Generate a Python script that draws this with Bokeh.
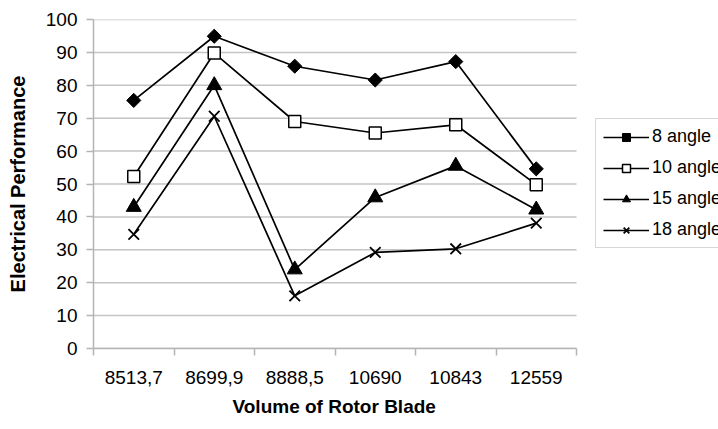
import math
from bokeh.plotting import figure
from bokeh.models import FixedTicker, Legend, LegendItem, Range1d, Title
from bokeh.embed import file_html
from bokeh.resources import INLINE

categories = ["8513,7", "8699,9", "8888,5", "10690", "10843", "12559"]
angle8 = [75.4, 94.9, 85.8, 81.6, 87.2, 54.6]
angle10 = [52.3, 89.8, 69.0, 65.5, 68.0, 49.8]
angle15 = [43.0, 80.0, 24.0, 45.9, 55.5, 42.2]
angle18 = [34.7, 70.6, 16.0, 29.2, 30.3, 38.1]
series_names = ["8 angle", "10 angle", "15 angle", "18 angle"]
yticks = list(range(0, 101, 10))
x_title = "Volume of Rotor Blade"
y_title = "Electrical Performance"

n = len(categories)
xs = [i + 0.5 for i in range(n)]

FONT = "Liberation Sans"
GRID = "#c4c4c4"
AXIS = "#b4b4b4"

W, H = 718, 429
PLOT_LEFT, PLOT_RIGHT = 93, 576   # pixel extent of the category axis
# frame spans to the right edge so the legend (inside the frame) is visible
x_end = n * (W - PLOT_LEFT) / (PLOT_RIGHT - PLOT_LEFT)

p = figure(width=W, height=H, output_backend="svg", toolbar_location=None,
           x_range=Range1d(0, x_end), y_range=Range1d(0, 100),
           min_border_left=PLOT_LEFT, min_border_right=0, min_border_top=19, min_border_bottom=81)
p.outline_line_color = None
p.background_fill_color = "white"
p.border_fill_color = "white"

# horizontal gridlines limited to the category extent
p.xgrid.grid_line_color = None
p.ygrid.grid_line_color = None
p.segment(x0=[0] * len(yticks), y0=yticks, x1=[n] * len(yticks), y1=yticks,
          line_color=GRID, line_width=1.5)

# x axis
p.xaxis.bounds = (0, n)
p.xaxis.ticker = FixedTicker(ticks=xs, minor_ticks=list(range(n + 1)))
p.xaxis.major_label_overrides = {x: c for x, c in zip(xs, categories)}
p.xaxis.major_tick_line_color = None
p.xaxis.major_tick_out = 7
p.xaxis.major_tick_in = 0
p.xaxis.minor_tick_line_color = AXIS
p.xaxis.minor_tick_out = 7
p.xaxis.minor_tick_in = 0
p.xaxis.minor_tick_line_width = 1.5
p.xaxis.axis_line_color = AXIS
p.xaxis.axis_line_width = 1.5
p.xaxis.major_label_standoff = 15
p.xaxis.major_label_text_font = FONT
p.xaxis.major_label_text_font_size = "19px"
p.xaxis.major_label_text_color = "black"

# x-axis title placed under the category extent
xt = Title(text=x_title, align="left", vertical_align="top", offset=232 - PLOT_LEFT,
           text_font=FONT, text_font_size="19px", text_font_style="bold",
           text_color="black", standoff=18)
p.add_layout(xt, "below")

# y axis
p.yaxis.ticker = FixedTicker(ticks=yticks, minor_ticks=[])
p.yaxis.major_tick_line_color = AXIS
p.yaxis.major_tick_line_width = 1.5
p.yaxis.major_tick_out = 7
p.yaxis.major_tick_in = 0
p.yaxis.axis_line_color = AXIS
p.yaxis.axis_line_width = 1.5
p.yaxis.major_label_standoff = 9
p.yaxis.major_label_text_font = FONT
p.yaxis.major_label_text_font_size = "19px"
p.yaxis.major_label_text_color = "black"
p.yaxis.axis_label = y_title
p.yaxis.axis_label_text_font = FONT
p.yaxis.axis_label_text_font_size = "20px"
p.yaxis.axis_label_text_font_style = "bold"
p.yaxis.axis_label_text_color = "black"
p.yaxis.axis_label_standoff = 14

LW = 1.7
styles = [
    dict(marker="square", angle=math.pi / 4, fill_color="black", line_color="black", line_width=1),
    dict(marker="square", angle=0, fill_color="white", line_color="black", line_width=1.5),
    dict(marker="triangle", angle=0, fill_color="black", line_color="black", line_width=1),
    dict(marker="x", angle=0, fill_color=None, line_color="black", line_width=1.8),
]
plot_sizes = [10, 12, 15, 15]
series = [angle8, angle10, angle15, angle18]

items = []
for name, ys, st, ps in zip(series_names, series, styles, plot_sizes):
    ln = p.line(xs, ys, line_color="black", line_width=LW)
    mk = p.scatter(xs, ys, size=ps, **st)
    items.append(LegendItem(label=name, renderers=[ln, mk]))

legend = Legend(items=items, location=(595 - PLOT_LEFT, 100))
legend.border_line_color = "#b0b0b0"
legend.border_line_width = 1
legend.background_fill_color = "white"
legend.background_fill_alpha = 1
legend.padding = 7
legend.margin = 0
legend.spacing = 10
legend.glyph_width = 46
legend.glyph_height = 20
legend.label_standoff = 3
legend.label_text_font = FONT
legend.label_text_font_size = "18px"
legend.label_text_color = "black"
legend.label_height = 20
p.add_layout(legend, "center")

open("out.html", "w").write(file_html(p, INLINE))
